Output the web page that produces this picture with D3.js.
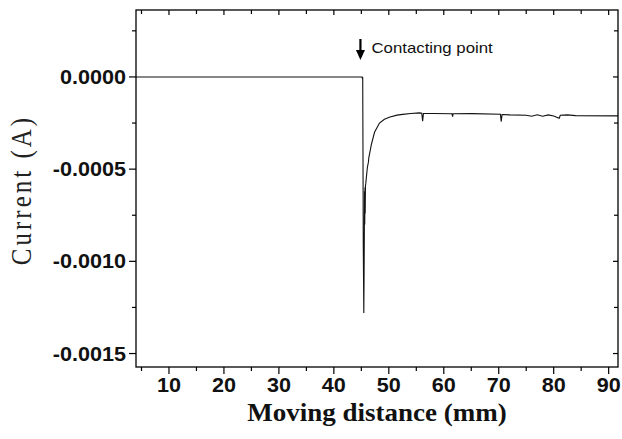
<!DOCTYPE html>
<html>
<head>
<meta charset="utf-8">
<script src="https://cdn.jsdelivr.net/npm/d3@7"></script>
<style>
  body { margin: 0; background: #fff; }
  svg { display: block; }
</style>
</head>
<body>
<div id="chart"></div>
<script>
// values
var distance = [4.0, 45.15, 45.2, 45.25, 45.3, 45.35, 45.45, 45.55, 45.58, 45.62, 45.66, 45.7, 45.75, 45.8,
  46.1, 46.3, 46.35, 46.8, 47.4, 48.3, 49.2, 50.2, 51.5, 52.5, 54.0, 55.6, 56.0, 56.15, 56.3, 58.0,
  61.5, 61.6, 61.7, 65.0, 70.3, 70.45, 70.6, 72.0, 75.0, 76.0, 77.0, 78.0, 79.0, 80.0, 81.0, 81.2,
  82.5, 84.0, 91.7];
var current = [0, 0, -0.00001, 0, -0.0004, -0.0009, -0.00128, -0.00083, -0.00062, -0.0008, -0.0006, -0.00074, -0.00059, -0.00058,
  -0.00049, -0.00046, -0.00044, -0.00037, -0.0003, -0.00025, -0.00023, -0.000217, -0.000207, -0.000203, -0.000198, -0.000195, -0.000197, -0.00024, -0.000198, -0.000198,
  -0.0002, -0.000215, -0.0002, -0.000199, -0.000202, -0.000242, -0.000204, -0.000206, -0.000208, -0.000213, -0.000205, -0.000213, -0.000206, -0.000212, -0.000224, -0.000208,
  -0.000206, -0.00021, -0.000211];

var xTicks = [10, 20, 30, 40, 50, 60, 70, 80, 90];
var xMinor = [5, 15, 25, 35, 45, 55, 65, 75, 85];
var yTicks = [0, -0.0005, -0.0010, -0.0015];
var yMinor = [0.00025, -0.00025, -0.00075, -0.00125];

var contactAt = 45.2;

var W = 622, H = 439;
var margin = {top: 10, right: 4, bottom: 72, left: 136};
var stretch = 1.08; // the picture looks widened, so text is too

var svg = d3.select("#chart").append("svg")
  .attr("width", W).attr("height", H);

var x = d3.scaleLinear().domain([4, 91.7]).range([margin.left, W - margin.right]);
var y = d3.scaleLinear().domain([0.000363, -0.001573]).range([margin.top, H - margin.bottom]);

var x0 = x.range()[0], x1 = x.range()[1], y0 = y.range()[0], y1 = y.range()[1];

// ticks: outward on left/bottom, inward on top/right
var g = svg.append("g").attr("stroke", "#000").attr("stroke-width", 1.2);
xTicks.forEach(function(v) {
  g.append("line").attr("x1", x(v)).attr("x2", x(v)).attr("y1", y1).attr("y2", y1 + 7);
  g.append("line").attr("x1", x(v)).attr("x2", x(v)).attr("y1", y0).attr("y2", y0 + 5);
});
xMinor.forEach(function(v) {
  g.append("line").attr("x1", x(v)).attr("x2", x(v)).attr("y1", y1).attr("y2", y1 + 4);
  g.append("line").attr("x1", x(v)).attr("x2", x(v)).attr("y1", y0).attr("y2", y0 + 4);
});
yTicks.forEach(function(v) {
  g.append("line").attr("x1", x0 - 7).attr("x2", x0).attr("y1", y(v)).attr("y2", y(v));
  g.append("line").attr("x1", x1 - 5).attr("x2", x1).attr("y1", y(v)).attr("y2", y(v));
});
yMinor.forEach(function(v) {
  g.append("line").attr("x1", x0 - 4).attr("x2", x0).attr("y1", y(v)).attr("y2", y(v));
  g.append("line").attr("x1", x1 - 4).attr("x2", x1).attr("y1", y(v)).attr("y2", y(v));
});

// tick labels
var lab = svg.append("g")
  .style("font", "bold 20px 'Liberation Sans', Arial, sans-serif")
  .attr("fill", "#111");
yTicks.forEach(function(v) {
  lab.append("text")
    .attr("transform", "translate(" + (x0 - 10) + "," + y(v) + ") scale(" + stretch + ",1)")
    .attr("text-anchor", "end").attr("dy", "0.35em")
    .text(d3.format(".4f")(v).replace("−", "-"));
});
xTicks.forEach(function(v) {
  lab.append("text")
    .attr("transform", "translate(" + x(v) + "," + (y1 + 18) + ") scale(" + stretch + ",1)")
    .attr("text-anchor", "middle").attr("dy", "0.35em")
    .text(v);
});

// axis titles
svg.append("text")
  .attr("transform", "translate(" + (x0 + x1) / 2 + "," + 421 + ") scale(1.08,1)")
  .attr("text-anchor", "middle")
  .style("font", "bold 25px 'Liberation Serif', 'Times New Roman', serif")
  .attr("fill", "#111")
  .text("Moving distance (mm)");

svg.append("text")
  .attr("transform", "translate(31," + 190 + ") scale(1.2,1) rotate(-90)")
  .attr("text-anchor", "middle")
  .style("font", "25px 'Liberation Serif', 'Times New Roman', serif")
  .style("letter-spacing", "3px")
  .attr("fill", "#222")
  .text("Current (A)");

// curve
svg.append("clipPath").attr("id", "clip")
  .append("rect").attr("x", x0).attr("y", y0).attr("width", x1 - x0).attr("height", y1 - y0);

var pts = distance.map(function(d, i) { return [d, current[i]]; });
svg.append("path")
  .datum(pts)
  .attr("clip-path", "url(#clip)")
  .attr("fill", "none")
  .attr("stroke", "#111")
  .attr("stroke-width", 1.1)
  .attr("d", d3.line().x(function(d) { return x(d[0]); }).y(function(d) { return y(d[1]); }));

// frame
svg.append("rect")
  .attr("x", x0).attr("y", y0).attr("width", x1 - x0).attr("height", y1 - y0)
  .attr("fill", "none").attr("stroke", "#000").attr("stroke-width", 1.3);

// contact annotation
var ax = x(contactAt) - 2;
svg.append("line")
  .attr("x1", ax).attr("x2", ax).attr("y1", 39).attr("y2", 52)
  .attr("stroke", "#000").attr("stroke-width", 2.2);
svg.append("path")
  .attr("d", "M" + (ax - 4.5) + ",50L" + (ax + 4.5) + ",50L" + ax + ",60Z")
  .attr("fill", "#000");
svg.append("text")
  .attr("transform", "translate(" + (ax + 11) + ",48) scale(1.2,1)")
  .attr("dy", "0.35em")
  .style("font", "14px 'Liberation Sans', Arial, sans-serif")
  .attr("fill", "#111")
  .text("Contacting point");
</script>
</body>
</html>
